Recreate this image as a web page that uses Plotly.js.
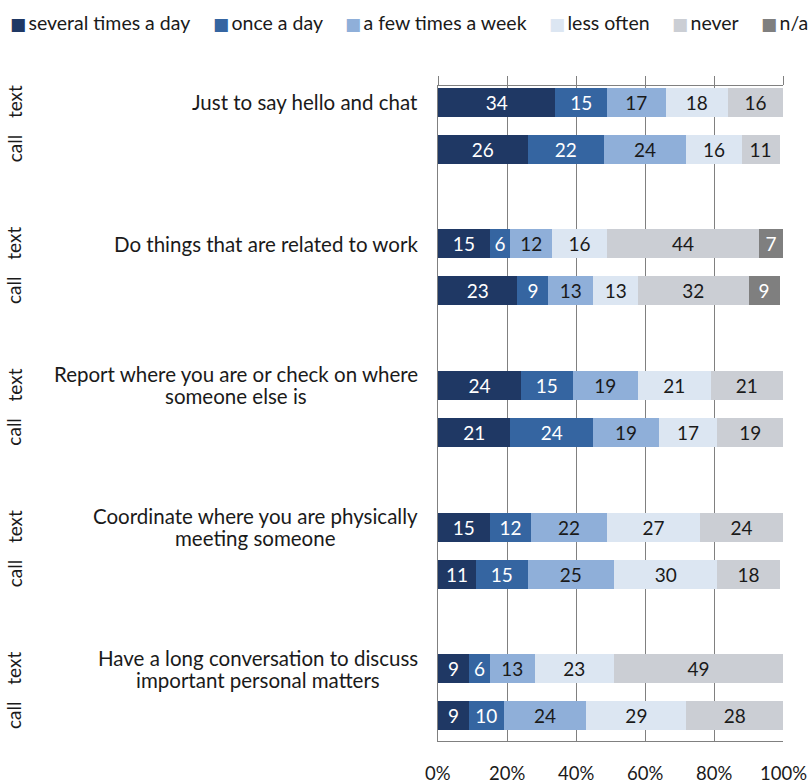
<!DOCTYPE html>
<html>
<head>
<meta charset="utf-8">
<script src="https://cdn.plot.ly/plotly-3.0.1.min.js"></script>
<style>
  html, body { margin: 0; padding: 0; background: #fff; }
  #chart { width: 810px; height: 784px; }
</style>
</head>
<body>
<div id="chart"></div>
<script>
// Activities asked about, each answered for texting and for calling
const activities = [
  ['Just to say hello and chat'],
  ['Do things that are related to work'],
  ['Report where you are or check on where', 'someone else is'],
  ['Coordinate where you are physically', 'meeting someone'],
  ['Have a long conversation to discuss', 'important personal matters']
];
const modes = ['text', 'call'];

// Frequency answers (%), rows ordered: activity 1 text, activity 1 call, activity 2 text, ...
const frequencies = ['several times a day', 'once a day', 'a few times a week', 'less often', 'never', 'n/a'];
const severalTimesADay = [34, 26, 15, 23, 24, 21, 15, 11, 9, 9];
const onceADay         = [15, 22, 6, 9, 15, 24, 12, 15, 6, 10];
const fewTimesAWeek    = [17, 24, 12, 13, 19, 19, 22, 25, 13, 24];
const lessOften        = [18, 16, 16, 13, 21, 17, 27, 30, 23, 29];
const never            = [16, 11, 44, 32, 21, 19, 24, 18, 49, 28];
const notApplicable    = [null, null, 7, 9, null, null, null, null, null, null];

const tickValues = [0, 20, 40, 60, 80, 100];
const tickLabels = ['0%', '20%', '40%', '60%', '80%', '100%'];

const seriesValues = [severalTimesADay, onceADay, fewTimesAWeek, lessOften, never, notApplicable];
const seriesColors = ['#1f3864', '#3565a1', '#8fafd9', '#dce6f2', '#cbced4', '#7f7f7f'];
const labelColors  = ['#ffffff', '#ffffff', '#1a1a1a', '#1a1a1a', '#1a1a1a', '#ffffff'];

const FONT = 'Lato, "Open Sans", "DejaVu Sans", sans-serif';
const INK = '#1a1a1a';
const GRID = '#808080';
const LINE_GAP = 22;
const PLOT_LEFT = 438;
const LEGEND_START = 10;   // px from the page's left edge
const LEGEND_END = 808;

// Row keys: text + call per activity, with a spacer row between activities
const rowKeys = [];
const categoryOrder = [];
activities.forEach((a, i) => {
  modes.forEach(m => { rowKeys.push(`${i}-${m}`); categoryOrder.push(`${i}-${m}`); });
  if (i < activities.length - 1) categoryOrder.push(`${i}-gap`);
});

const traces = frequencies.map((name, k) => ({
  type: 'bar',
  orientation: 'h',
  name: name,
  y: rowKeys,
  x: seriesValues[k],
  marker: { color: seriesColors[k], line: { width: 0 } },
  text: seriesValues[k].map(v => (v == null ? '' : String(v))),
  texttemplate: '%{text}',
  textposition: 'inside',
  insidetextanchor: 'middle',
  textangle: 0,
  textfont: { family: FONT, size: 19, color: labelColors[k] },
  hoverinfo: 'skip',
  showlegend: false
}));

const annotations = [];

// Activity labels, right-aligned beside the "text" bar of each pair, lines centred on each other
activities.forEach((lines, i) => {
  lines.forEach((line, j) => {
    annotations.push({
      text: line, xref: 'paper', yref: 'y', x: 0, y: `${i}-text`,
      xanchor: 'center', yanchor: 'middle', align: 'center',
      xshift: -20, showarrow: false,
      yshift: ((lines.length - 1) / 2 - j) * LINE_GAP,
      font: { family: FONT, size: 20.5, color: INK },
      _block: i
    });
  });
  modes.forEach(m => {
    annotations.push({
      text: m, xref: 'paper', yref: 'y', x: 0, y: `${i}-${m}`,
      xanchor: 'center', yanchor: 'middle', xshift: 14 - PLOT_LEFT, textangle: -90,
      showarrow: false, font: { family: FONT, size: 19, color: INK }
    });
  });
});

// Percent labels under the bottom frame line, placed on the value axis
tickValues.forEach((v, j) => {
  annotations.push({
    text: tickLabels[j], xref: 'x', yref: 'paper', x: v, y: 0,
    xanchor: 'center', yanchor: 'top', yshift: -19,
    showarrow: false, font: { family: FONT, size: 18.5, color: INK }
  });
});

// Legend entries across the top
frequencies.forEach((name, k) => {
  annotations.push({
    text: `<span style="color:${seriesColors[k]};font-size:17px">■</span>\u2009${name}`,
    xref: 'paper', yref: 'paper', x: 0, y: 1,
    xanchor: 'left', yanchor: 'middle', xshift: LEGEND_START - PLOT_LEFT, yshift: 64,
    showarrow: false, font: { family: FONT, size: 19.5, color: INK },
    _legend: k
  });
});

const layout = {
  width: 810, height: 784,
  margin: { l: PLOT_LEFT, r: 27, t: 86, b: 43, pad: 0 },
  paper_bgcolor: '#ffffff', plot_bgcolor: '#ffffff',
  barmode: 'stack',
  bargap: 0.386,
  showlegend: false,
  font: { family: FONT, color: INK },
  xaxis: {
    side: 'top',
    range: [0, 100], tickvals: tickValues,
    showgrid: true, gridcolor: GRID, gridwidth: 1,
    showline: true, mirror: true, linecolor: GRID, linewidth: 1,
    ticks: 'outside', ticklen: 9, tickcolor: GRID, tickwidth: 1,
    showticklabels: false,
    zeroline: false, automargin: false, fixedrange: true
  },
  yaxis: {
    type: 'category', categoryarray: categoryOrder, categoryorder: 'array',
    range: [13.53, -0.34],
    showticklabels: false, showgrid: false, ticks: '',
    showline: true, linecolor: GRID, linewidth: 1,
    zeroline: false, automargin: false, fixedrange: true
  },
  annotations: annotations
};

// Once text is measured: right-align each activity block at the plot edge (lines stay
// centred on each other) and spread the legend entries evenly across the top strip.
Plotly.newPlot('chart', traces, layout, { displayModeBar: false, staticPlot: true }).then(gd => {
  const nodes = gd.querySelectorAll('.annotation');
  const widthOf = idx => nodes[idx].querySelector('text').getBBox().width;
  const blocks = {};
  const legendWidths = [];
  gd.layout.annotations.forEach((a, idx) => {
    if (a._block !== undefined) blocks[a._block] = Math.max(blocks[a._block] || 0, widthOf(idx));
    if (a._legend !== undefined) legendWidths[a._legend] = widthOf(idx);
  });
  const total = legendWidths.reduce((s, w) => s + w, 0);
  const gap = (LEGEND_END - LEGEND_START - total) / (legendWidths.length - 1);
  const starts = [];
  legendWidths.reduce((x, w, k) => { starts[k] = x; return x + w + gap; }, LEGEND_START);

  const update = {};
  gd.layout.annotations.forEach((a, idx) => {
    if (a._block !== undefined) update[`annotations[${idx}].xshift`] = -20 - blocks[a._block] / 2;
    if (a._legend !== undefined) update[`annotations[${idx}].xshift`] = starts[a._legend] - PLOT_LEFT - 2;
  });
  return Plotly.relayout(gd, update);
});
</script>
</body>
</html>
